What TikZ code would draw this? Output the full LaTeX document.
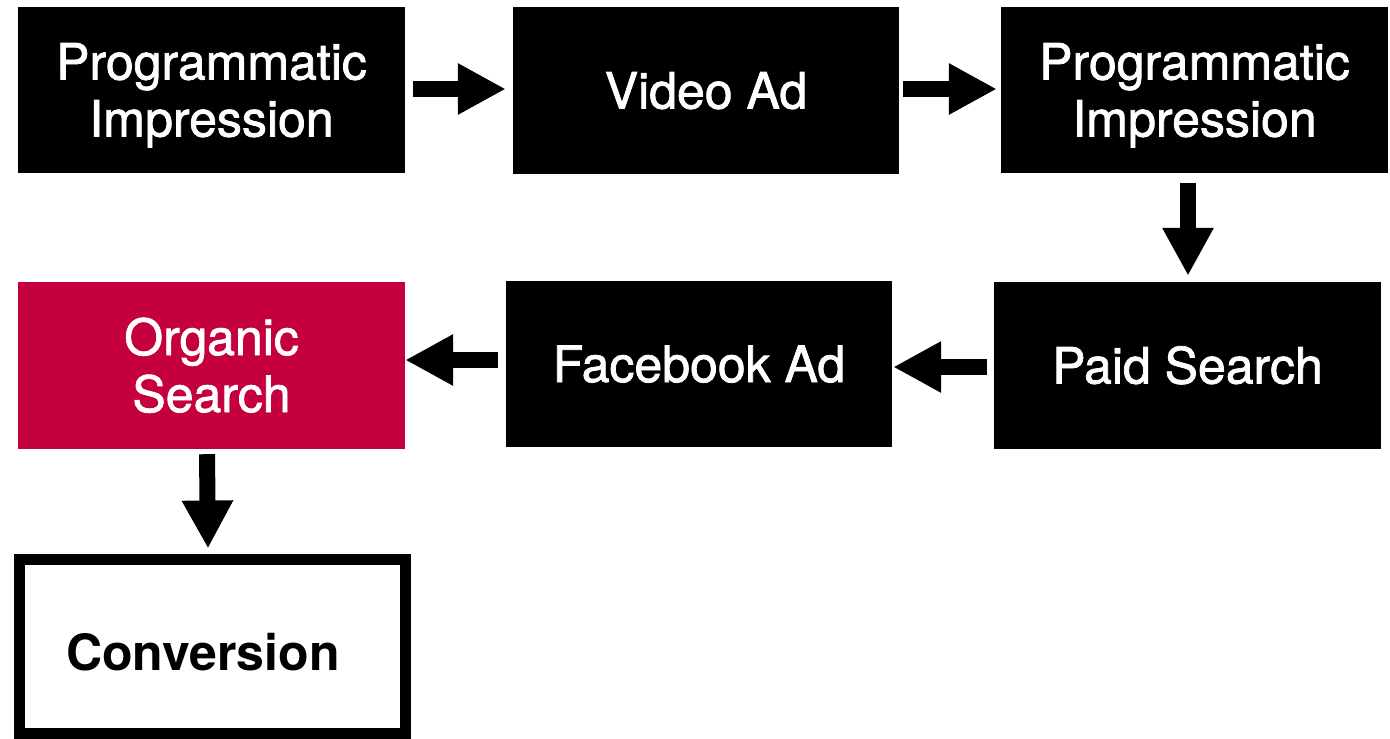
\documentclass[tikz,border=0pt]{standalone}
\usepackage{fontspec}
\newfontfamily\medfont[FakeBold=1.5]{TeX Gyre Heros}
\newfontfamily\herosfont{TeX Gyre Heros}
\usetikzlibrary{arrows.meta,calc}
\definecolor{organic}{RGB}{196,0,62}
\begin{document}
\begin{tikzpicture}[x=1pt,y=-1pt,
  txt/.style={font=\medfont\fontsize{50}{57}\selectfont},
  blk/.style={txt, fill=black, text=white, inner sep=0pt, text height=36pt, text depth=0pt},
  lbl/.style={txt, inner sep=0pt, anchor=base},
  barrow/.style={line width=16pt, -{Triangle[length=48pt,width=48pt]}}]
\fill[white] (0,0) rectangle (1390,739);
\useasboundingbox (0,0) rectangle (1390,739);

% boxes
\node[blk, minimum width=387pt, minimum height=166pt] (p1) at (211.5,90) {};
\node[lbl, text=white] at ($(p1.center)+(0,-10.5)$) {Programmatic};
\node[lbl, text=white] at ($(p1.center)+(0,46.5)$) {Impression};

\node[blk, minimum width=386pt, minimum height=167pt] (v) at (706,90.5) {Video Ad};

\node[blk, minimum width=387pt, minimum height=166pt] (p2) at (1194.5,90) {};
\node[lbl, text=white] at ($(p2.center)+(0,-10.5)$) {Programmatic};
\node[lbl, text=white] at ($(p2.center)+(0,46.5)$) {Impression};

\node[blk, minimum width=387pt, minimum height=167pt] (ps) at (1187.5,365.5) {Paid Search};

\node[blk, minimum width=386pt, minimum height=166pt] (fb) at (699,364) {Facebook Ad};

\node[blk, fill=organic, minimum width=387pt, minimum height=167pt] (org) at (211.5,365.5) {};
\node[lbl, text=white] at ($(org.center)+(0,-10.5)$) {Organic};
\node[lbl, text=white] at ($(org.center)+(0,46.5)$) {Search};

\node[draw=black, line width=11pt, fill=white, inner sep=0pt,
      minimum width=386pt, minimum height=174pt] (conv) at (212,646) {};
\node[lbl, text=black, font=\herosfont\bfseries\fontsize{50}{57}\selectfont]
  at ($(conv.center)+(-9,24)$) {Conversion};

% arrows
\draw[barrow] ($(p1.east)+(8,-1)$) -- ($(v.west)+(-7,-1.5)$);
\draw[barrow] ($(v.east)+(4,-1.5)$) -- ($(p2.west)+(-4,-1)$);
\draw[barrow] ($(ps.north|-p2.south)+(0.5,10)$) -- ($(ps.north)+(0.5,-6)$);
\draw[barrow] ($(ps.west)+(-7,1.5)$) -- ($(fb.east)+(1,3)$);
\draw[barrow] ($(fb.west)+(-8,-4)$) -- ($(org.east)+(0,-5.5)$);
\draw[barrow] ($(org.south)+(-4.5,5)$) -- ($(conv.north)+(-4,-5)$);
\end{tikzpicture}
\end{document}
